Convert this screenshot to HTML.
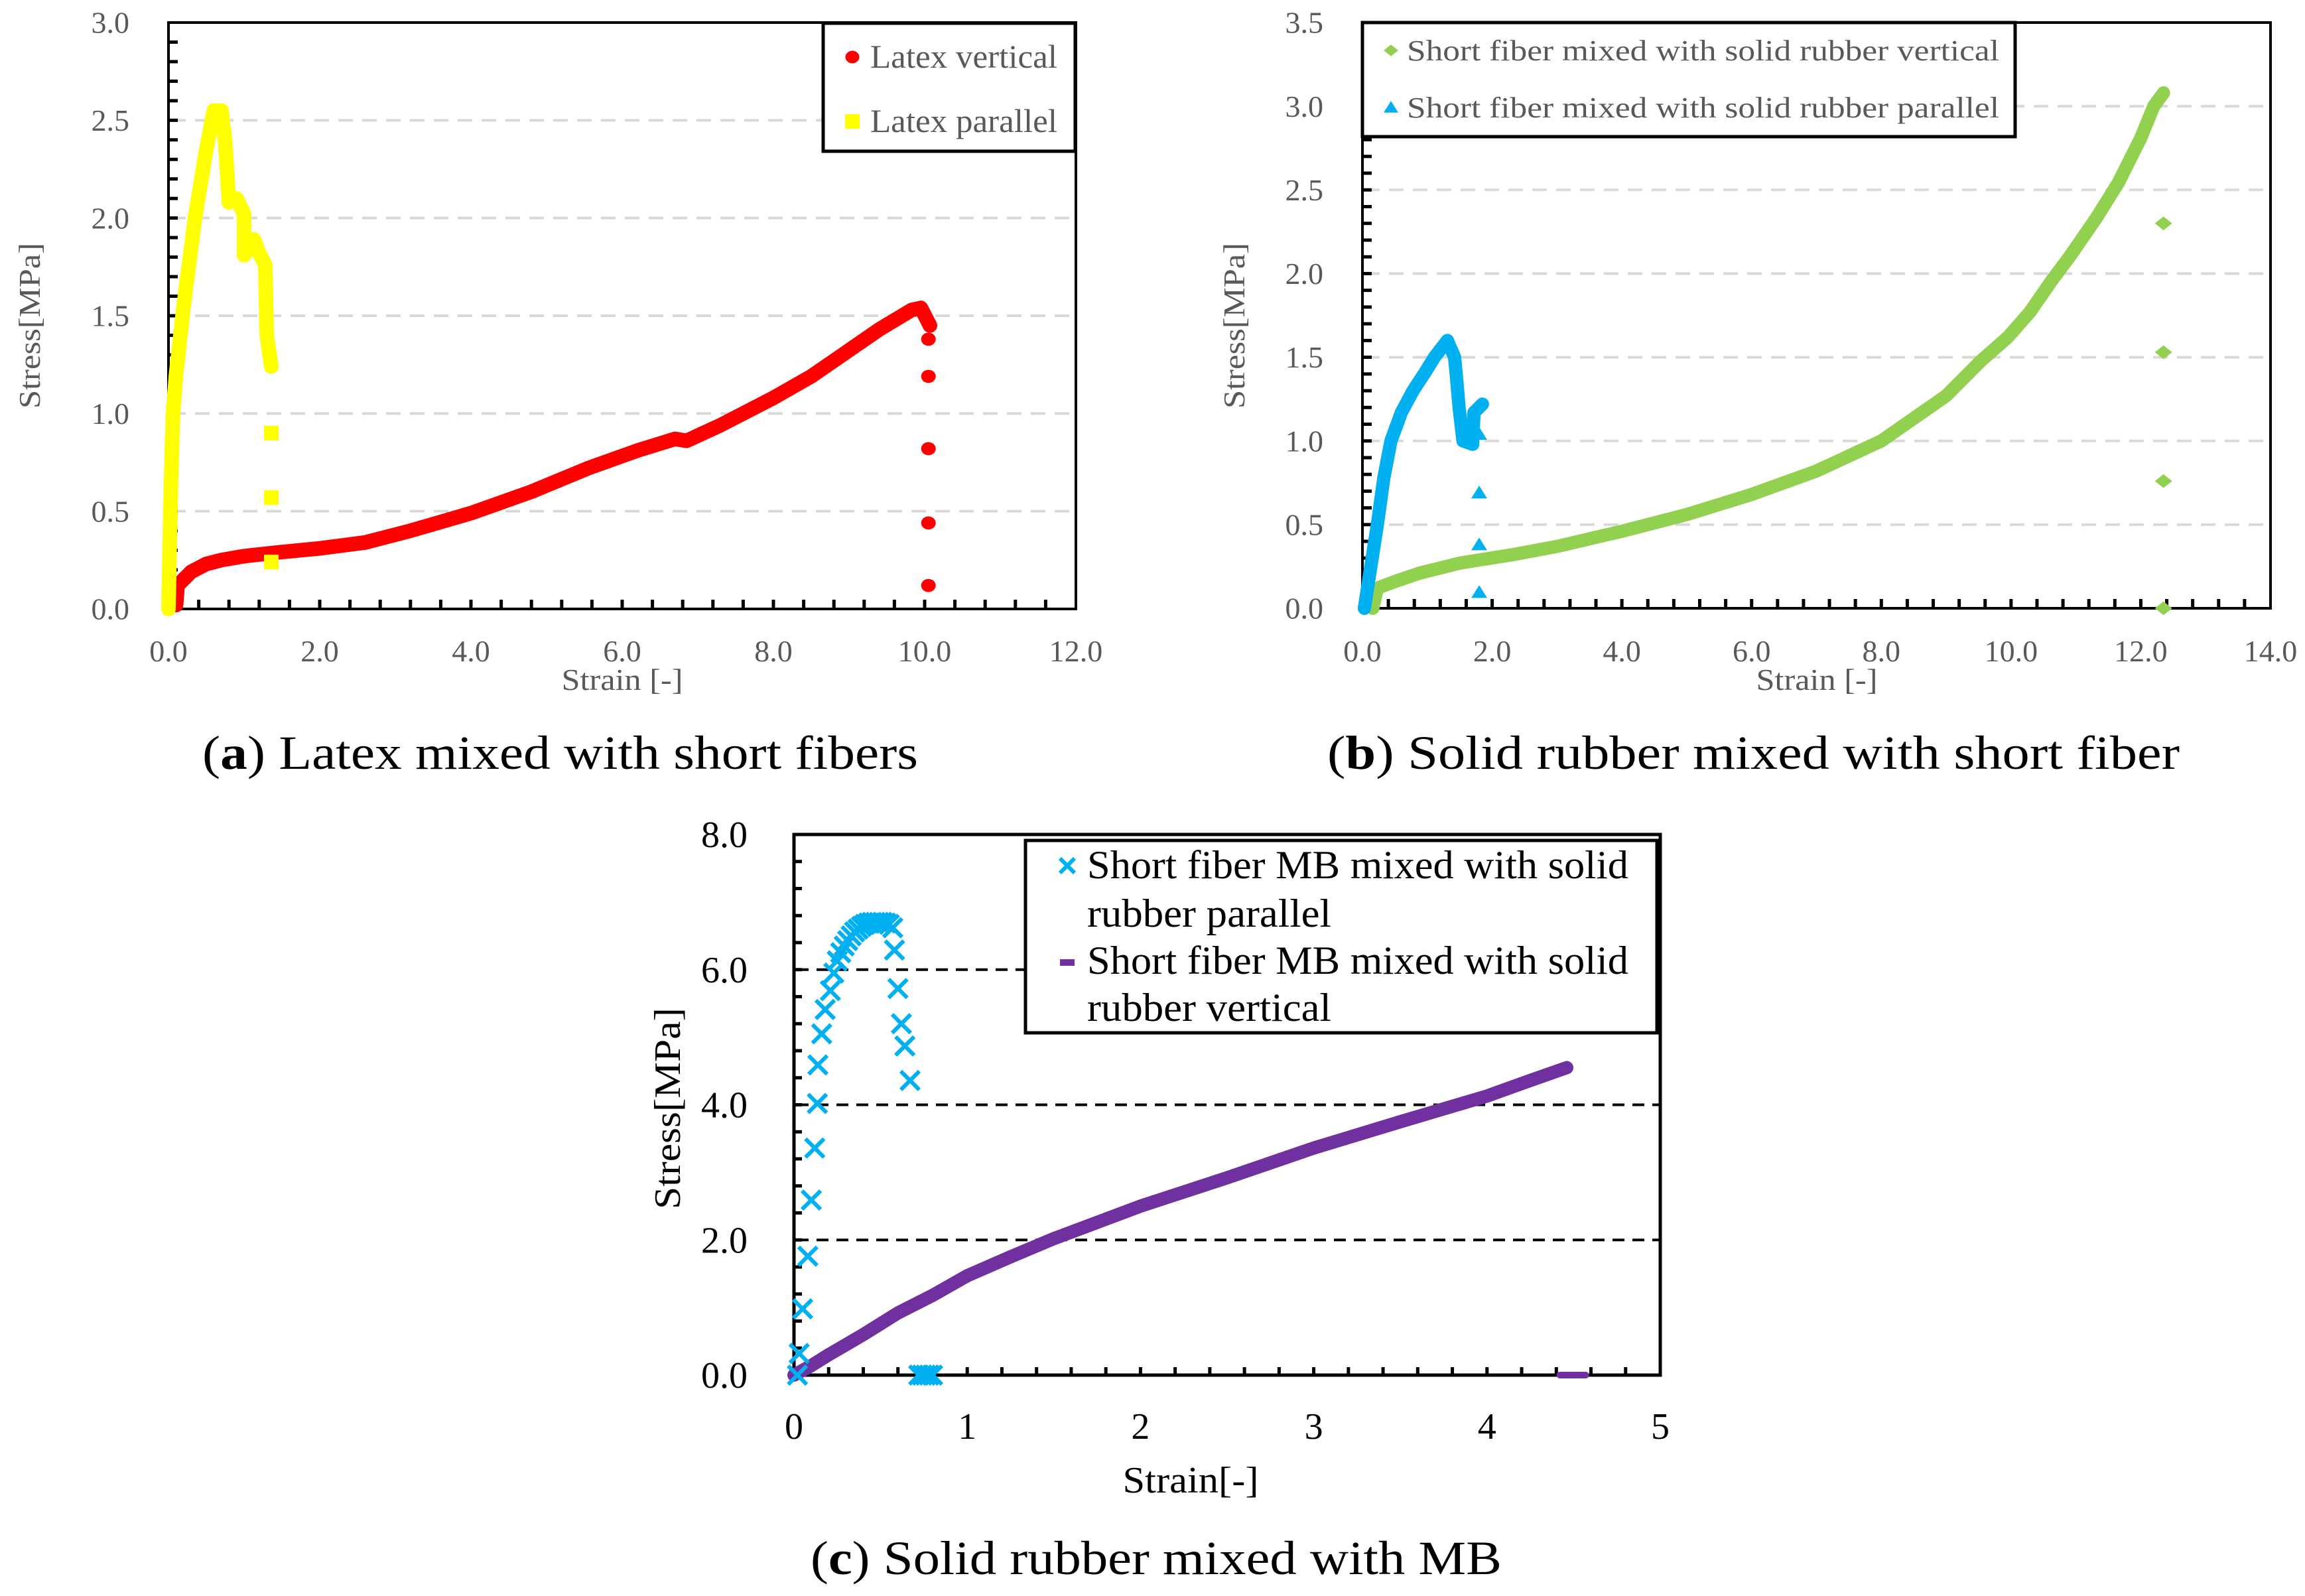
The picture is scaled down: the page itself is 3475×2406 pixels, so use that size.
<!DOCTYPE html>
<html><head><meta charset="utf-8"><style>
html,body{margin:0;padding:0;background:#fff;}
svg{display:block;font-family:"Liberation Serif",serif;}
</style></head><body>
<svg id="fig" width="3475" height="2406" viewBox="0 0 3475 2406" xmlns="http://www.w3.org/2000/svg">
<rect x="0" y="0" width="3475" height="2406" fill="#fff"/>
<g id="ga"></g>
<g id="gb"></g>
<g id="gc"></g>
</svg>
<script>
// ---- chart (a) data ----
const aVertX=[0.1,0.12,0.3,0.5,0.7,1.0,1.47,2.0,2.6,3.2,4.0,4.8,5.55,6.2,6.7,6.85,7.3,8.0,8.5,8.95,9.4,9.83,9.95,10.07];
const aVertY=[0.02,0.12,0.19,0.23,0.25,0.27,0.29,0.31,0.34,0.40,0.49,0.60,0.72,0.81,0.87,0.86,0.94,1.08,1.19,1.31,1.43,1.53,1.54,1.45];
const aVertDropX=[10.05,10.05,10.05,10.05,10.05];
const aVertDropY=[1.38,1.19,0.82,0.44,0.12];
const aParX=[0.0,0.03,0.06,0.1,0.2,0.35,0.5,0.6,0.7,0.75,0.8,0.9,1.0,1.0,1.13,1.2,1.28,1.3,1.36];
const aParY=[0.0,0.6,1.0,1.2,1.55,2.0,2.35,2.55,2.55,2.39,2.08,2.1,2.02,1.81,1.89,1.82,1.76,1.4,1.24];
const aParDropX=[1.36,1.36,1.36];
const aParDropY=[0.9,0.57,0.24];
const aXTicks=["0.0","2.0","4.0","6.0","8.0","10.0","12.0"];
const aYTicks=["0.0","0.5","1.0","1.5","2.0","2.5","3.0"];
// ---- chart (b) data ----
const bVertX=[0.16,0.23,0.5,0.88,1.5,2.31,3.0,4.0,5.0,6.0,7.0,8.0,9.0,9.54,9.95,10.29,10.63,10.9,11.31,11.65,12.0,12.2,12.35];
const bVertY=[0.0,0.12,0.16,0.21,0.27,0.32,0.37,0.46,0.56,0.68,0.82,1.0,1.27,1.48,1.62,1.77,1.96,2.1,2.33,2.54,2.81,3.0,3.08];
const bVertDropX=[12.35,12.35,12.35,12.35];
const bVertDropY=[2.3,1.53,0.76,0.0];
const bParX=[0.03,0.13,0.23,0.33,0.44,0.6,0.78,0.95,1.11,1.31,1.42,1.45,1.49,1.55,1.7,1.72,1.85];
const bParY=[0.0,0.25,0.5,0.78,1.0,1.17,1.3,1.4,1.5,1.6,1.5,1.38,1.2,1.0,0.98,1.17,1.22];
const bParDropX=[1.8,1.8,1.8,1.8];
const bParDropY=[1.04,0.69,0.38,0.095];
const bXTicks=["0.0","2.0","4.0","6.0","8.0","10.0","12.0","14.0"];
const bYTicks=["0.0","0.5","1.0","1.5","2.0","2.5","3.0","3.5"];
// ---- chart (c) data ----
const cParX=[0.02,0.03,0.05,0.08,0.1,0.12,0.135,0.138,0.16,0.18,0.21,0.23,0.25,0.27,0.29,0.31,0.33,0.35,0.37,0.39,0.41,0.43,0.45,0.47,0.49,0.51,0.53,0.55,0.57,0.58,0.6,0.62,0.64,0.67,0.72,0.74,0.76,0.78,0.8];
const cParY=[0.0,0.32,0.98,1.76,2.59,3.36,4.02,4.59,5.05,5.41,5.69,5.95,6.13,6.25,6.35,6.43,6.5,6.56,6.6,6.64,6.67,6.69,6.7,6.7,6.7,6.7,6.69,6.67,6.62,6.29,5.72,5.2,4.87,4.36,0.0,0.0,0.0,0.0,0.0];
const cVertX=[0.0,0.1,0.2,0.3,0.4,0.5,0.6,0.8,1.0,1.25,1.5,2.0,2.5,3.0,3.5,4.0,4.25,4.46];
const cVertY=[0.0,0.14,0.3,0.45,0.6,0.76,0.92,1.18,1.47,1.75,2.02,2.5,2.92,3.36,3.75,4.13,4.36,4.55];
const cVertTailX=[4.42,4.57];
const cVertTailY=[0.0,0.0];
const cXTicks=["0","1","2","3","4","5"];
const cYTicks=["0.0","2.0","4.0","6.0","8.0"];

const NS="http://www.w3.org/2000/svg";
function mk(parent,tag,attrs,txt){const e=document.createElementNS(NS,tag);for(const k in attrs)e.setAttribute(k,attrs[k]);if(txt!==undefined)e.textContent=txt;parent.appendChild(e);return e;}
function axes(L,R,T,B,xmax,ymax){return {L,R,T,B,sx:v=>L+(R-L)*v/xmax,sy:v=>B-(B-T)*v/ymax};}

function drawFrame(g,ax,opts){
  opts.grid.forEach(v=>{const l=mk(g,'line',{x1:ax.L+4,x2:ax.R-2,y1:ax.sy(v),y2:ax.sy(v),stroke:opts.gridColor,'stroke-width':opts.gridW,'stroke-dasharray':opts.dash});
    
    });
  for(let v=opts.xstep;v<opts.xmax-1e-6;v+=opts.xstep){const t=mk(g,'line',{x1:ax.sx(v),x2:ax.sx(v),y1:ax.B,y2:ax.B-opts.tl,stroke:'#000','stroke-width':5});
    
    }
  for(let v=opts.ystep;v<opts.ymax-1e-6;v+=opts.ystep){const t=mk(g,'line',{x1:ax.L,x2:ax.L+opts.tl,y1:ax.sy(v),y2:ax.sy(v),stroke:'#000','stroke-width':5});
    
    }
  const f=mk(g,'rect',{x:ax.L,y:ax.T,width:ax.R-ax.L,height:ax.B-ax.T,fill:'none',stroke:'#000','stroke-width':opts.fw});
  
  
}
function labels(g,ax,xt,yt,xmaxv,ymaxv,o){
  xt.forEach((s,i)=>{const v=xmaxv*i/(xt.length-1);const t=mk(g,'text',{x:ax.sx(v),y:o.xb,'text-anchor':'middle','font-size':o.fs,fill:o.col},s);
    
    });
  yt.forEach((s,i)=>{const v=ymaxv*i/(yt.length-1);const t=mk(g,'text',{x:o.yr,y:ax.sy(v)+o.fs*0.34,'text-anchor':'end','font-size':o.fs,fill:o.col},s);
    
    });
}
function line(g,ax,xs,ys,col,w,name){
  const p=xs.map((x,i)=>ax.sx(x).toFixed(1)+','+ax.sy(ys[i]).toFixed(1)).join(' ');
  const l=mk(g,'polyline',{points:p,fill:'none',stroke:col,'stroke-width':w,'stroke-linejoin':'round','stroke-linecap':'round'});
  
  
}
function marker(g,type,cx,cy,s,col,name){
  let e;
  if(type==='circle')e=mk(g,'ellipse',{cx,cy,rx:s,ry:s*0.9,fill:col});
  else if(type==='square')e=mk(g,'rect',{x:cx-s,y:cy-s,width:2*s,height:2*s,fill:col});
  else if(type==='diamond')e=mk(g,'polygon',{points:`${cx-s},${cy} ${cx},${cy-s*0.8} ${cx+s},${cy} ${cx},${cy+s*0.8}`,fill:col});
  else if(type==='tri')e=mk(g,'polygon',{points:`${cx-s},${cy+s*0.7} ${cx+s},${cy+s*0.7} ${cx},${cy-s*0.9}`,fill:col});
  else if(type==='cross')e=mk(g,'path',{d:`M${cx-s},${cy-s}L${cx+s},${cy+s}M${cx-s},${cy+s}L${cx+s},${cy-s}`,stroke:col,'stroke-width':6,fill:'none'});
  else if(type==='dash')e=mk(g,'rect',{x:cx-s,y:cy-s*0.45,width:2*s,height:s*0.9,fill:col});
  
  
  return e;
}
function text(g,x,y,s,fs,col,anchor,name,tl,extra){
  const a={x,y,'font-size':fs,fill:col,'text-anchor':anchor||'start'};
  if(tl){a.textLength=tl;a.lengthAdjust='spacingAndGlyphs';}
  if(extra)Object.assign(a,extra);
  const t=mk(g,'text',a,s);
  
  
  return t;
}

// ===== chart a =====
(function(){
  const g=document.getElementById('ga');
  const ax=axes(254,1622,34,918,12,3);
  drawFrame(g,ax,{grid:[0.5,1.0,1.5,2.0,2.5],gridColor:'#d9d9d9',gridW:4,dash:'22,14',xstep:0.4,ystep:0.1,xmax:12,ymax:3,tl:14,fw:4});
  line(g,ax,aVertX,aVertY,'#ff0000',22,'series-latex-vertical');
  aVertDropX.forEach((x,i)=>marker(g,'circle',ax.sx(x),ax.sy(aVertDropY[i]),11,'#ff0000','latex-vertical-point'));
  line(g,ax,aParX,aParY,'#ffff00',22,'series-latex-parallel');
  aParDropX.forEach((x,i)=>marker(g,'square',ax.sx(x),ax.sy(aParDropY[i]),11,'#ffff00','latex-parallel-point'));
  labels(g,ax,aXTicks,aYTicks,12,3,{xb:997,yr:195,fs:46,col:'#595959'});
  text(g,938,1040,'Strain [-]',46,'#595959','middle','x-axis-title',183);
  text(g,0,0,'Stress[MPa]',46,'#595959','middle','y-axis-title',250,{transform:'translate(60,491) rotate(-90)'});
  const lg=mk(g,'rect',{x:1241,y:35,width:380,height:193,fill:'#fff',stroke:'#000','stroke-width':5});
  
  
  marker(g,'circle',1285,86,10.5,'#ff0000','legend-marker-latex-vertical');
  text(g,1312,102,'Latex vertical',50,'#595959','start','legend-entry-latex-vertical',282);
  marker(g,'square',1285,183,11,'#ffff00','legend-marker-latex-parallel');
  text(g,1312,199,'Latex parallel',50,'#595959','start','legend-entry-latex-parallel',282);
  const c=text(g,305,1159,'',72,'#000','start','caption-a',1079);
  mk(c,'tspan',{},'(');mk(c,'tspan',{'font-weight':'bold'},'a');mk(c,'tspan',{},') Latex mixed with short fibers');
})();

// ===== chart b =====
(function(){
  const g=document.getElementById('gb');
  const ax=axes(2054,3423,34,917,14,3.5);
  drawFrame(g,ax,{grid:[0.5,1.0,1.5,2.0,2.5,3.0],gridColor:'#d9d9d9',gridW:4,dash:'22,14',xstep:0.4,ystep:0.1,xmax:14,ymax:3.5,tl:14,fw:4});
  line(g,ax,bVertX,bVertY,'#92d050',20,'series-solid-rubber-vertical');
  bVertDropX.forEach((x,i)=>marker(g,'diamond',ax.sx(x),ax.sy(bVertDropY[i]),13,'#92d050','solid-rubber-vertical-point'));
  line(g,ax,bParX,bParY,'#00b0f0',20,'series-solid-rubber-parallel');
  bParDropX.forEach((x,i)=>marker(g,'tri',ax.sx(x),ax.sy(bParDropY[i]),12,'#00b0f0','solid-rubber-parallel-point'));
  labels(g,ax,bXTicks,bYTicks,14,3.5,{xb:997,yr:1995,fs:46,col:'#595959'});
  text(g,2739,1040,'Strain [-]',46,'#595959','middle','x-axis-title',183);
  text(g,0,0,'Stress[MPa]',46,'#595959','middle','y-axis-title',250,{transform:'translate(1876,491) rotate(-90)'});
  const lg=mk(g,'rect',{x:2054,y:34,width:984,height:172,fill:'#fff',stroke:'#000','stroke-width':5});
  
  
  marker(g,'diamond',2097,76,11,'#92d050','legend-marker-vertical');
  text(g,2121,91,'Short fiber mixed with solid rubber vertical',44,'#595959','start','legend-entry-vertical',893);
  marker(g,'tri',2097,162,11,'#00b0f0','legend-marker-parallel');
  text(g,2121,177,'Short fiber mixed with solid rubber parallel',44,'#595959','start','legend-entry-parallel',893);
  const c=text(g,2001,1159,'',72,'#000','start','caption-b',1285);
  mk(c,'tspan',{},'(');mk(c,'tspan',{'font-weight':'bold'},'b');mk(c,'tspan',{},') Solid rubber mixed with short fiber');
})();

// ===== chart c =====
(function(){
  const g=document.getElementById('gc');
  const ax=axes(1197,2503,1258,2073,5,8);
  drawFrame(g,ax,{grid:[2,4,6],gridColor:'#000',gridW:4,dash:'18,12',xstep:0.2,ystep:0.4,xmax:5,ymax:8,tl:12,fw:5});
  line(g,ax,cVertX,cVertY,'#7030a0',20,'series-mb-vertical');
  line(g,ax,cVertTailX,cVertTailY,'#7030a0',10,'series-mb-vertical-tail');
  cParX.forEach((x,i)=>marker(g,'cross',ax.sx(x),ax.sy(cParY[i]),14,'#00b0f0','mb-parallel-point'));
  labels(g,ax,cXTicks,cYTicks,5,8,{xb:2169,yr:1127,fs:56,col:'#000'});
  text(g,1795,2250,'Strain[-]',56,'#000','middle','x-axis-title',205);
  text(g,0,0,'Stress[MPa]',56,'#000','middle','y-axis-title',304,{transform:'translate(1025,1671) rotate(-90)'});
  const lg=mk(g,'rect',{x:1546,y:1267,width:952,height:290,fill:'#fff',stroke:'#000','stroke-width':5});
  
  
  marker(g,'cross',1609,1305,11,'#00b0f0','legend-marker-parallel');
  text(g,1639,1324,'Short fiber MB mixed with solid',60,'#000','start','legend-entry-parallel',816);
  text(g,1639,1397,'rubber parallel',60,'#000','start','legend-entry-parallel-line2',368);
  marker(g,'dash',1609,1451,11,'#7030a0','legend-marker-vertical');
  text(g,1639,1468,'Short fiber MB mixed with solid',60,'#000','start','legend-entry-vertical',816);
  text(g,1639,1539,'rubber vertical',60,'#000','start','legend-entry-vertical-line2',368);
  const c=text(g,1222,2373,'',72,'#000','start','caption-c',1042);
  mk(c,'tspan',{},'(');mk(c,'tspan',{'font-weight':'bold'},'c');mk(c,'tspan',{},') Solid rubber mixed with MB');
})();
</script>
</body></html>
